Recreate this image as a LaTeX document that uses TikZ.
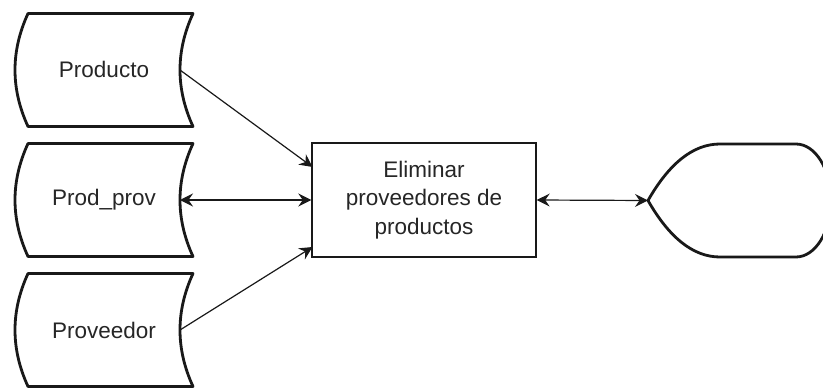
\documentclass[tikz,border=0pt]{standalone}
\usepackage{fontspec}
\setmainfont{Liberation Sans}
\usetikzlibrary{arrows.meta}
\newcommand\dstoreshape[1]{%
  \draw[storeline] (28,#1-56.5) -- (193,#1-56.5)
    .. controls (175.67,#1-18.83) and (175.67,#1+18.83) .. (193,#1+56.5)
    -- (28,#1+56.5)
    .. controls (10.67,#1+18.83) and (10.67,#1-18.83) .. cycle;}
\begin{document}
\begin{tikzpicture}[x=1pt,y=-1pt,
  lbl/.style={font=\fontsize{22.5}{28.5}\selectfont, text=black!85, align=center, inner sep=0pt},
  storeline/.style={line width=2.8pt, line join=round, draw=black!90},
  procbox/.style={draw=black!90, line width=1.4pt, minimum width=224pt, minimum height=114pt, inner sep=0pt},
  tip/.tip={Stealth[length=13pt,width=13pt,inset=4.5pt]},
  flow/.style={line width=1.2pt, draw=black!90, -tip},
  biflow/.style={line width=1.2pt, draw=black!90, tip-tip},
]
\useasboundingbox (0,0) rectangle (823,388);
\clip (0,0) rectangle (823,388);
\fill[white] (0,0) rectangle (823,388);

% data stores
\dstoreshape{70}
\dstoreshape{200}
\dstoreshape{330}
\node[lbl] (producto) at (104,69) {Producto};
\node[lbl] (prodprov) at (104,200) {Prod\_prov};
\node[lbl] (proveedor) at (104,330) {Proveedor};
\coordinate (productoR) at (180,70);
\coordinate (prodprovR) at (180,200);
\coordinate (proveedorR) at (180,330);

% process
\node[procbox, lbl] (proc) at (424,200) {Eliminar\\proveedores de\\productos};
\coordinate (procIn1) at (312.5,167);
\coordinate (procIn3) at (312.5,247);

% display
\draw[storeline] (648,200.5)
  .. controls (669.33,163.17) and (693.33,144) .. (720,144)
  -- (796,144)
  .. controls (815.3,144) and (831,169.3) .. (831,200.5)
  .. controls (831,231.7) and (815.3,257) .. (796,257)
  -- (720,257)
  .. controls (693.33,257) and (669.33,237.83) .. cycle;
\coordinate (dispL) at (648,200.5);

% connectors
\draw[flow] (productoR) -- (procIn1);
\draw[biflow] (prodprovR) -- (proc.west);
\draw[flow] (proveedorR) -- (procIn3);
\draw[biflow] (proc.east) -- (dispL);
\end{tikzpicture}
\end{document}
